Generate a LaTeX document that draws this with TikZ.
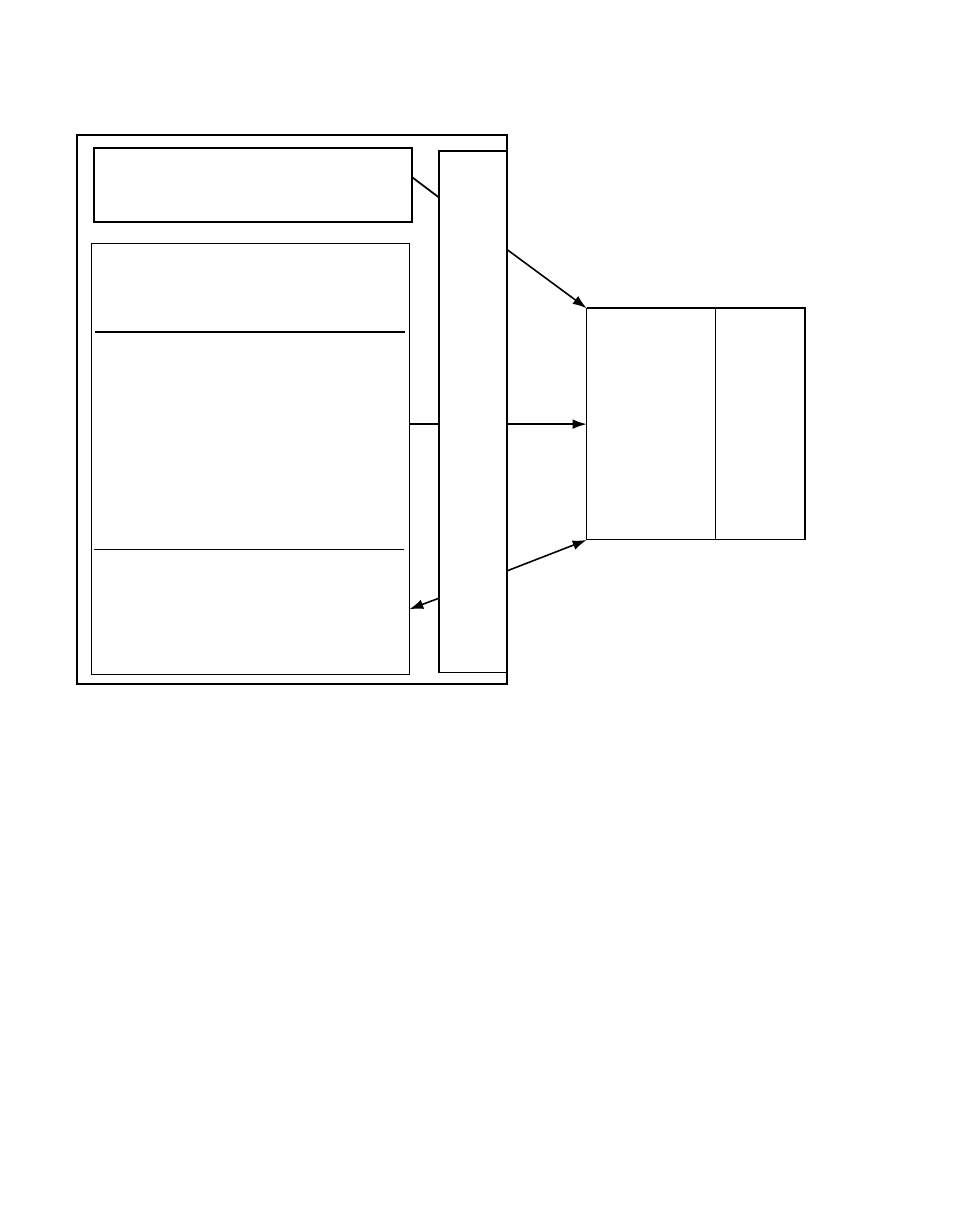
\documentclass[tikz,border=0pt]{standalone}
\usetikzlibrary{arrows.meta}

\begin{document}
\begin{tikzpicture}[x=0.02cm,y=-0.02cm,
    heavy/.style={draw,line width=1pt},
    light/.style={draw,line width=0.6pt},
    blk/.style={rectangle,inner sep=0pt,outer sep=0pt,anchor=north west},
    link/.style={line width=1pt},
    feed/.style={line width=0.9pt,-{Latex[length=8pt,width=5.5pt]}}]
                \useasboundingbox (0,0) rectangle (954,1227);
                \node[blk,heavy,minimum width=8.6cm,minimum height=10.98cm] (sys) at (77,135) {};
                \node[blk,heavy,minimum width=6.36cm,minimum height=1.474cm] (ctl) at (94.3,148) {};
                \node[blk,light,minimum width=6.36cm,minimum height=8.634cm] (mem) at (91.3,243.3) {};
                \node[blk,heavy,minimum width=1.36cm,minimum height=10.434cm] (bus) at (438.7,151) {};
                \node[blk,light,minimum width=4.366cm,minimum height=4.634cm] (dev) at (586.7,308.3) {};
                \draw[heavy] (dev.north west)--(dev.north east)--(dev.south east);
                \draw[light] (95,332)--(404.7,332);
                \draw[light] (94,549.3)--(403.7,549.3);
                \draw[light] (715.3,308.3)--(715.3,540);
                \draw[link] (ctl.east |- 0,177.3)--(bus.west |- 0,197.3);
                \draw[link] (mem.east |- 0,424)--(bus.west |- 0,424);
                \draw[feed] (bus.east |- 0,249.3)--(dev.north west);
                \draw[feed] (bus.east |- dev.west)--(dev.west);
                \draw[feed] (bus.east |- 0,571)--(dev.south west);
                \draw[feed] (bus.west |- 0,598.3)--(mem.east |- 0,609.3);
                \end{tikzpicture}
\end{document}
